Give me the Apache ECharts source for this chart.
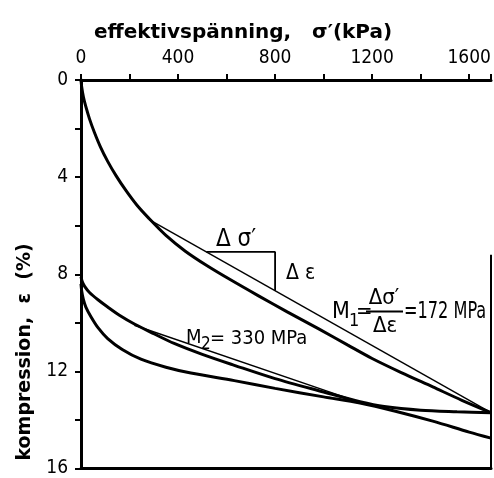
<!DOCTYPE html>
<html>
<head>
<meta charset="utf-8">
<script src="https://cdn.jsdelivr.net/npm/echarts@6/dist/echarts.min.js"></script>
<style>html,body{margin:0;padding:0;background:#fff}#c{width:494px;height:478px}</style>
</head>
<body>
<div id="c"></div>
<script>
// ---- data ----
const xTickLabels = [0, 400, 800, 1200, 1600];
const yTickLabels = [0, 4, 8, 12, 16];

// first loading curve
const loadSigma = [0, 3, 10, 20, 35, 55, 80, 110, 145, 185, 230, 280, 350, 430, 520, 620, 730, 850, 980, 1100, 1200, 1320, 1450, 1570, 1690];
const loadEps   = [0, 0.3, 0.7, 1.1, 1.6, 2.15, 2.75, 3.35, 3.95, 4.55, 5.15, 5.7, 6.4, 7.05, 7.65, 8.25, 8.88, 9.55, 10.25, 10.92, 11.47, 12.05, 12.64, 13.19, 13.7];

// unloading curve
const unloadSigma = [0, 5, 15, 35, 70, 110, 160, 220, 300, 384, 500, 632, 800, 1000, 1150, 1250, 1400, 1550, 1690];
const unloadEps   = [8.1, 8.3, 8.5, 8.75, 9.05, 9.35, 9.7, 10.05, 10.45, 10.85, 11.3, 11.75, 12.3, 12.85, 13.25, 13.45, 13.6, 13.66, 13.7];

// reloading curve
const reloadSigma = [0, 3, 10, 20, 41, 70, 110, 170, 247, 350, 453, 632, 800, 1000, 1150, 1300, 1450, 1600, 1690];
const reloadEps   = [8.4, 8.7, 9.05, 9.35, 9.75, 10.2, 10.65, 11.1, 11.5, 11.83, 12.07, 12.38, 12.7, 13.05, 13.3, 13.65, 14.05, 14.5, 14.75];

// secant lines
const m1Sigma = [281, 1690];
const m1Eps   = [5.75, 13.7];
const m2Sigma = [220, 1150];
const m2Eps   = [10.1, 13.28];

// slope triangle
const triSigma = [517, 800, 800];
const triEps   = [7.08, 7.08, 8.68];

// right border segment
const borderSigma = [1690, 1690];
const borderEps   = [7.2, 16];

const X_MAX = 1690;

function pairs(xs, ys) { return xs.map((x, i) => [x, ys[i]]); }

const COND = "'DejaVu Sans Condensed', 'DejaVu Sans', sans-serif";
const SANS = "'DejaVu Sans', sans-serif";

const chart = echarts.init(document.getElementById('c'), null, { renderer: 'canvas' });

const thick = { color: '#000', width: 3 };
const thin  = { color: '#000', width: 1.4 };

function lineSeries(data, ls, smooth) {
  return { type: 'line', data, showSymbol: false, symbol: 'none',
           smooth: smooth ? 0.3 : false,
           lineStyle: ls, silent: true, animation: false, z: 3 };
}

function txt(x, y, text, size, opts) {
  opts = opts || {};
  return { type: 'text', x, y, scaleX: opts.sx || 1, rotation: opts.rot || 0,
           style: { text, font: (opts.weight || 'normal') + ' ' + size + 'px ' + (opts.family || COND),
                    fill: '#000', align: opts.align || 'left', verticalAlign: 'middle' } };
}

const option = {
  animation: false,
  backgroundColor: '#fff',
  grid: { left: 81, top: 80, right: 3, bottom: 9 },
  xAxis: [{
    type: 'value', position: 'top', min: 0, max: X_MAX, interval: 200,
    axisLine: { show: true, onZero: false, lineStyle: { color: '#000', width: 3 } },
    axisTick: { show: true, length: 6, lineStyle: { color: '#000', width: 2 } },
    axisLabel: { show: true, margin: 12, color: '#000', fontFamily: COND, fontSize: 19,
                 formatter: v => (xTickLabels.indexOf(v) >= 0 ? String(v) : '') },
    splitLine: { show: false }
  }, {
    type: 'value', position: 'bottom', min: 0, max: X_MAX,
    axisLine: { show: true, onZero: false, lineStyle: { color: '#000', width: 3 } },
    axisTick: { show: false }, axisLabel: { show: false }, splitLine: { show: false }
  }],
  yAxis: [{
    type: 'value', inverse: true, min: 0, max: 16, interval: 2,
    axisLine: { show: true, onZero: false, lineStyle: { color: '#000', width: 3 } },
    axisTick: { show: true, length: 6, lineStyle: { color: '#000', width: 2 } },
    axisLabel: { show: true, margin: 13, color: '#000', fontFamily: COND, fontSize: 19,
                 formatter: v => (yTickLabels.indexOf(v) >= 0 ? String(v) : '') },
    splitLine: { show: false }
  }],
  series: [
    lineSeries(pairs(loadSigma, loadEps), thick, true),
    lineSeries(pairs(unloadSigma, unloadEps), thick, true),
    lineSeries(pairs(reloadSigma, reloadEps), thick, true),
    lineSeries(pairs(m1Sigma, m1Eps), thin, false),
    lineSeries(pairs(m2Sigma, m2Eps), thin, false),
    lineSeries(pairs(triSigma, triEps), { color: '#000', width: 1.8 }, false),
    lineSeries(pairs(borderSigma, borderEps), { color: '#000', width: 2 }, false)
  ],
  graphic: [
    txt(243, 33, 'effektivspänning,   σ′(kPa)', 20, { family: SANS, weight: 'bold', align: 'center' }),
    txt(25, 352, 'kompression,  ε  (%)', 19, { family: SANS, weight: 'bold', align: 'center', rot: Math.PI / 2 }),

    txt(216, 240, 'Δ σ′', 24),
    txt(286, 274, 'Δ ε', 21),

    txt(332, 312, 'M', 23),
    txt(349, 321, '1', 18),
    txt(356, 312, '=', 22),
    txt(384, 298, 'Δσ′', 22, { align: 'center' }),
    { type: 'line', shape: { x1: 366, y1: 311.5, x2: 403, y2: 311.5 }, style: { stroke: '#000', lineWidth: 2 } },
    txt(385, 326, 'Δε', 22, { align: 'center' }),
    txt(404, 312, '=172 MPa', 23, { sx: 0.78 }),

    txt(186, 338, 'M', 20),
    txt(201, 345, '2', 17),
    txt(210, 339, '= 330 MPa', 20)
  ]
};
chart.setOption(option);
</script>
</body>
</html>
